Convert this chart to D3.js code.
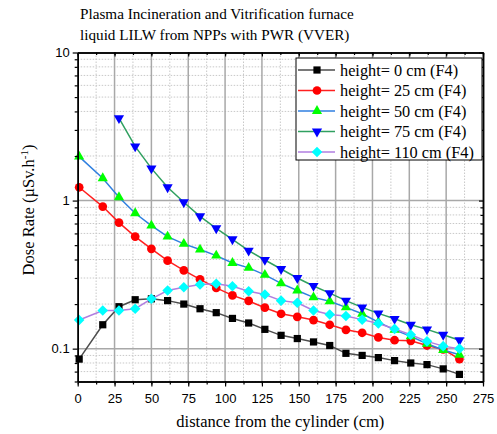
<!DOCTYPE html>
<html>
<head>
<meta charset="utf-8">
<script src="https://cdn.jsdelivr.net/npm/d3@7"></script>
<style>
    body { margin: 0; background: #fff; }
    svg { display: block; }
</style>
</head>
<body>
<div id="chart"></div>
<script>
// Data
var distances = [1, 17, 28, 39, 50, 61, 72, 83, 94, 105, 116, 127, 138, 149, 160, 171, 182, 193, 204, 215, 226, 237, 248, 259];
var height0 = [0.085, 0.145, 0.192, 0.214, 0.217, 0.211, 0.200, 0.186, 0.175, 0.160, 0.149, 0.135, 0.123, 0.117, 0.111, 0.105, 0.093, 0.090, 0.087, 0.083, 0.080, 0.078, 0.073, 0.067];
var height25 = [1.23, 0.911, 0.710, 0.571, 0.472, 0.393, 0.338, 0.294, 0.257, 0.229, 0.210, 0.189, 0.172, 0.164, 0.156, 0.145, 0.134, 0.128, 0.119, 0.114, 0.113, 0.105, 0.099, 0.085];
var height50 = [1.98, 1.415, 1.053, 0.821, 0.678, 0.571, 0.510, 0.467, 0.425, 0.379, 0.351, 0.315, 0.276, 0.247, 0.222, 0.209, 0.190, 0.172, 0.151, 0.134, 0.121, 0.108, 0.098, 0.091];
var height75 = [null, null, 3.60, 2.32, 1.65, 1.23, 0.974, 0.783, 0.650, 0.548, 0.459, 0.397, 0.345, 0.300, 0.265, 0.237, 0.211, 0.190, 0.173, 0.159, 0.145, 0.135, 0.124, 0.114];
var height110 = [0.156, 0.181, 0.181, 0.186, 0.217, 0.247, 0.260, 0.271, 0.274, 0.264, 0.244, 0.232, 0.211, 0.204, 0.181, 0.170, 0.166, 0.157, 0.148, 0.136, 0.124, 0.112, 0.104, 0.100];

var seriesLabels = ['height= 0 cm (F4)', 'height= 25 cm (F4)', 'height= 50 cm (F4)', 'height= 75 cm (F4)', 'height= 110 cm (F4)'];
var xTicks = [0, 25, 50, 75, 100, 125, 150, 175, 200, 225, 250, 275];
var yTicks = [0.1, 1, 10];
var titleLines = ['Plasma Incineration and Vitrification furnace', 'liquid LILW from NPPs with PWR (VVER)'];

var serif = '"Liberation Serif", "Times New Roman", serif';
var sans = '"Liberation Sans", Arial, sans-serif';

/*
 * Render the graphic.
 */
var render = function() {
    var width = 497;
    var height = 434;
    var margins = { top: 52.5, right: 14, bottom: 52.5, left: 77.7 };
    var chartWidth = width - margins.left - margins.right;
    var chartHeight = height - margins.top - margins.bottom;

    var svg = d3.select('#chart').append('svg')
        .attr('width', width)
        .attr('height', height);

    var chart = svg.append('g')
        .attr('transform', 'translate(' + margins.left + ',' + margins.top + ')');

    var xScale = d3.scaleLinear().domain([0, 275]).range([0, chartWidth]);
    var yScale = d3.scaleLog().domain([0.06, 10]).range([chartHeight, 0]);

    var xMinor = d3.range(0, 276, 12.5);
    var yMinor = yScale.ticks().filter(function(t) { return yTicks.indexOf(t) < 0; });

    // grid
    var grid = chart.append('g').attr('class', 'grid');
    grid.selectAll('.xminor').data(xMinor.filter(function(v) { return v % 25 != 0; }))
        .enter().append('line')
        .attr('x1', xScale).attr('x2', xScale)
        .attr('y1', 0).attr('y2', chartHeight)
        .attr('stroke', '#c8c8c8').attr('stroke-dasharray', '1.5,1.5');
    grid.selectAll('.yminor').data(yMinor)
        .enter().append('line')
        .attr('x1', 0).attr('x2', chartWidth)
        .attr('y1', yScale).attr('y2', yScale)
        .attr('stroke', '#c8c8c8').attr('stroke-dasharray', '1.5,1.5');
    grid.selectAll('.xmajor').data(xTicks.slice(1, -1))
        .enter().append('line')
        .attr('x1', xScale).attr('x2', xScale)
        .attr('y1', 0).attr('y2', chartHeight)
        .attr('stroke', '#a8a8a8').attr('stroke-width', 1.5);
    grid.selectAll('.ymajor').data([0.1, 1])
        .enter().append('line')
        .attr('x1', 0).attr('x2', chartWidth)
        .attr('y1', yScale).attr('y2', yScale)
        .attr('stroke', '#a8a8a8').attr('stroke-width', 1.5);

    // series
    var series = [
        { label: seriesLabels[0], values: height0, line: '#4d4d4d', fill: '#000000', symbol: d3.symbolSquare, size: 52, rotate: 0 },
        { label: seriesLabels[1], values: height25, line: '#ff2020', fill: '#ff0000', symbol: d3.symbolCircle, size: 60, rotate: 0 },
        { label: seriesLabels[2], values: height50, line: '#2f7fe0', fill: '#00ff00', symbol: d3.symbolTriangle, size: 45, rotate: 0 },
        { label: seriesLabels[3], values: height75, line: '#30a060', fill: '#0000ff', symbol: d3.symbolTriangle, size: 45, rotate: 180 },
        { label: seriesLabels[4], values: height110, line: '#b07ee0', fill: '#00ffff', symbol: d3.symbolSquare, size: 56, rotate: 45 }
    ];

    var line = d3.line()
        .defined(function(d) { return d[1] != null; })
        .x(function(d) { return xScale(d[0]); })
        .y(function(d) { return yScale(d[1]); });

    series.forEach(function(s) {
        var pts = distances.map(function(x, i) { return [x, s.values[i]]; });
        chart.append('path')
            .datum(pts)
            .attr('d', line)
            .attr('fill', 'none')
            .attr('stroke', s.line)
            .attr('stroke-width', 1.5);
        chart.selectAll(null)
            .data(pts.filter(function(d) { return d[1] != null; }))
            .enter().append('path')
            .attr('d', d3.symbol().type(s.symbol).size(s.size))
            .attr('transform', function(d) {
                return 'translate(' + xScale(d[0]) + ',' + yScale(d[1]) + ') rotate(' + s.rotate + ')';
            })
            .attr('fill', s.fill);
    });

    // legend
    var legend = svg.append('g').attr('transform', 'translate(296,58)');
    legend.append('rect')
        .attr('x', 0).attr('y', 0)
        .attr('width', 186).attr('height', 102)
        .attr('fill', '#fff').attr('stroke', '#000').attr('stroke-width', 1);
    series.forEach(function(s, i) {
        var ly = 12 + i * 20.5;
        legend.append('line')
            .attr('x1', 2).attr('x2', 39).attr('y1', ly).attr('y2', ly)
            .attr('stroke', s.line).attr('stroke-width', 1.5);
        legend.append('path')
            .attr('d', d3.symbol().type(s.symbol).size(s.size)())
            .attr('transform', 'translate(21,' + ly + ') rotate(' + s.rotate + ')')
            .attr('fill', s.fill);
        legend.append('text')
            .attr('x', 44).attr('y', ly + 5.5)
            .attr('font-family', serif).attr('font-size', 16.3)
            .text(s.label);
    });

    // axes
    var xAxis = chart.append('g')
        .attr('transform', 'translate(0,' + chartHeight + ')')
        .call(d3.axisBottom(xScale).tickValues(xTicks).tickSize(5).tickSizeOuter(0).tickFormat(d3.format('d')));
    var xAxisMinor = chart.append('g')
        .attr('transform', 'translate(0,' + chartHeight + ')')
        .call(d3.axisBottom(xScale).tickValues(xMinor).tickSize(3).tickSizeOuter(0).tickFormat(''));
    var xTop = chart.append('g')
        .call(d3.axisBottom(xScale).tickValues(xTicks).tickSize(4).tickSizeOuter(0).tickFormat(''));
    var xTopMinor = chart.append('g')
        .call(d3.axisBottom(xScale).tickValues(xMinor).tickSize(2.5).tickSizeOuter(0).tickFormat(''));

    var yAxis = chart.append('g')
        .call(d3.axisLeft(yScale).tickValues(yTicks).tickSize(5).tickSizeOuter(0).tickFormat(d3.format('')));
    var yAxisMinor = chart.append('g')
        .call(d3.axisLeft(yScale).tickValues(yMinor).tickSize(3).tickSizeOuter(0).tickFormat(''));
    var yRight = chart.append('g')
        .attr('transform', 'translate(' + chartWidth + ',0)')
        .call(d3.axisLeft(yScale).tickValues(yTicks).tickSize(4).tickSizeOuter(0).tickFormat(''));
    var yRightMinor = chart.append('g')
        .attr('transform', 'translate(' + chartWidth + ',0)')
        .call(d3.axisLeft(yScale).tickValues(yMinor).tickSize(2.5).tickSizeOuter(0).tickFormat(''));

    [xAxis, xAxisMinor, xTop, xTopMinor, yAxis, yAxisMinor, yRight, yRightMinor].forEach(function(a) {
        a.selectAll('.domain').attr('stroke', '#000').attr('stroke-width', 1.5);
        a.selectAll('line').attr('stroke', '#000').attr('stroke-width', 1.2);
        a.selectAll('text')
            .attr('font-family', sans)
            .attr('font-size', 13)
            .attr('fill', '#000');
    });
    xAxis.selectAll('text').attr('dy', '1.05em');

    // titles
    svg.selectAll('.title').data(titleLines)
        .enter().append('text')
        .attr('x', 80)
        .attr('y', function(d, i) { return 19 + i * 21; })
        .attr('font-family', serif)
        .attr('font-size', 15.2)
        .text(function(d) { return d; });

    svg.append('text')
        .attr('x', margins.left + chartWidth / 2)
        .attr('y', 427)
        .attr('text-anchor', 'middle')
        .attr('font-family', serif)
        .attr('font-size', 16.5)
        .text('distance from the cylinder (cm)');

    var yLabel = svg.append('text')
        .attr('transform', 'translate(34,210) rotate(-90)')
        .attr('text-anchor', 'middle')
        .attr('font-family', serif)
        .attr('font-size', 16.5);
    yLabel.append('tspan').text('Dose Rate (\u00b5Sv.h');
    yLabel.append('tspan').attr('dy', -6).attr('font-size', 11).text('-1');
    yLabel.append('tspan').attr('dy', 6).text(')');
};

window.onload = render;
</script>
</body>
</html>
